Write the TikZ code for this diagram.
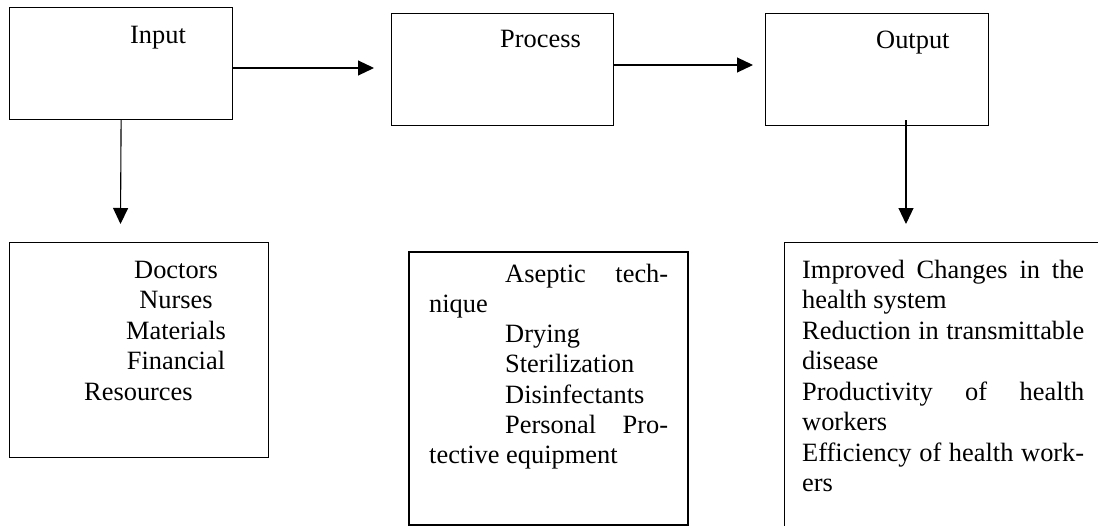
\documentclass[tikz,border=0pt]{standalone}
\usepackage{fontspec}
\setmainfont{Liberation Serif}
\usetikzlibrary{arrows.meta}
\tikzset{
  box/.style={draw, line width=1.2pt, inner sep=0pt, anchor=north west},
  thickbox/.style={box, line width=2.2pt},
  arr/.style={line width=1.1pt, -{Triangle[length=16pt,width=15pt]}},
  txt/.style={inner sep=0pt, font=\fontsize{26.4}{30.5}\selectfont},
}
\begin{document}
\begin{tikzpicture}[x=1pt,y=-1pt]
\useasboundingbox (0,0) rectangle (1098,525);
\clip (0,0) rectangle (1098,525);
% top row boxes
\node[box, minimum width=223pt, minimum height=112pt] (input) at (9,7) {};
\node[box, minimum width=222pt, minimum height=112pt] (process) at (391,13) {};
\node[box, minimum width=223pt, minimum height=112pt] (output) at (765,13) {};
% bottom boxes
\node[box, minimum width=259pt, minimum height=215pt] (res) at (9,242) {};
\node[thickbox, minimum width=279pt, minimum height=273pt] (tech) at (408,251) {};
\node[box, minimum width=340pt, minimum height=320pt] (out) at (784,242) {};
% titles
\node[txt, anchor=base west] (tin) at (130,43) {Input};
\node[txt, anchor=base west] (tpr) at (500,47) {Process};
\node[txt, anchor=base west] (tou) at (876,48) {Output};
% connectors
\coordinate (a1) at (374,68);
\coordinate (a2) at (753,65);
\coordinate (d1) at (120.5,224);
\coordinate (o1) at (906,120);
\coordinate (d2) at (906,224);
\draw[arr] (input.east |- a1) -- (a1);
\draw[arr] (process.east |- a2) -- (a2);
\draw[arr] (input.south) -- (d1);
\draw[arr] (o1) -- (d2);
% input resources
\node[txt, anchor=base] (l1) at (176,278) {Doctors};
\node[txt, anchor=base] (l2) at (176,308.5) {Nurses};
\node[txt, anchor=base] (l3) at (176,339) {Materials};
\node[txt, anchor=base] (l4) at (176,369.5) {Financial};
\node[txt, anchor=base west] (l5) at (84,400) {Resources};
% process items
\node[txt, anchor=base west] (m1) at (505,282) {\makebox[163pt][s]{Aseptic tech-}};
\node[txt, anchor=base west] (m2) at (429,312.3) {nique};
\node[txt, anchor=base west] (m3) at (505,342.6) {Drying};
\node[txt, anchor=base west] (m4) at (505,372.9) {Sterilization};
\node[txt, anchor=base west] (m5) at (505,403.2) {Disinfectants};
\node[txt, anchor=base west] (m6) at (505,433.5) {\makebox[163pt][s]{Personal Pro-}};
\node[txt, anchor=base west] (m7) at (429,463.8) {tective equipment};
% outputs
\node[txt, anchor=base west] (r1) at (802,278) {\makebox[282pt][s]{Improved Changes in the}};
\node[txt, anchor=base west] (r2) at (802,308.5) {health system};
\node[txt, anchor=base west] (r3) at (802,339) {\makebox[282pt][s]{Reduction in transmittable}};
\node[txt, anchor=base west] (r4) at (802,369.5) {disease};
\node[txt, anchor=base west] (r5) at (802,400) {\makebox[282pt][s]{Productivity of health}};
\node[txt, anchor=base west] (r6) at (802,430.5) {workers};
\node[txt, anchor=base west] (r7) at (802,461) {\makebox[282pt][s]{Efficiency of health work-}};
\node[txt, anchor=base west] (r8) at (802,491.5) {ers};
\end{tikzpicture}
\end{document}
